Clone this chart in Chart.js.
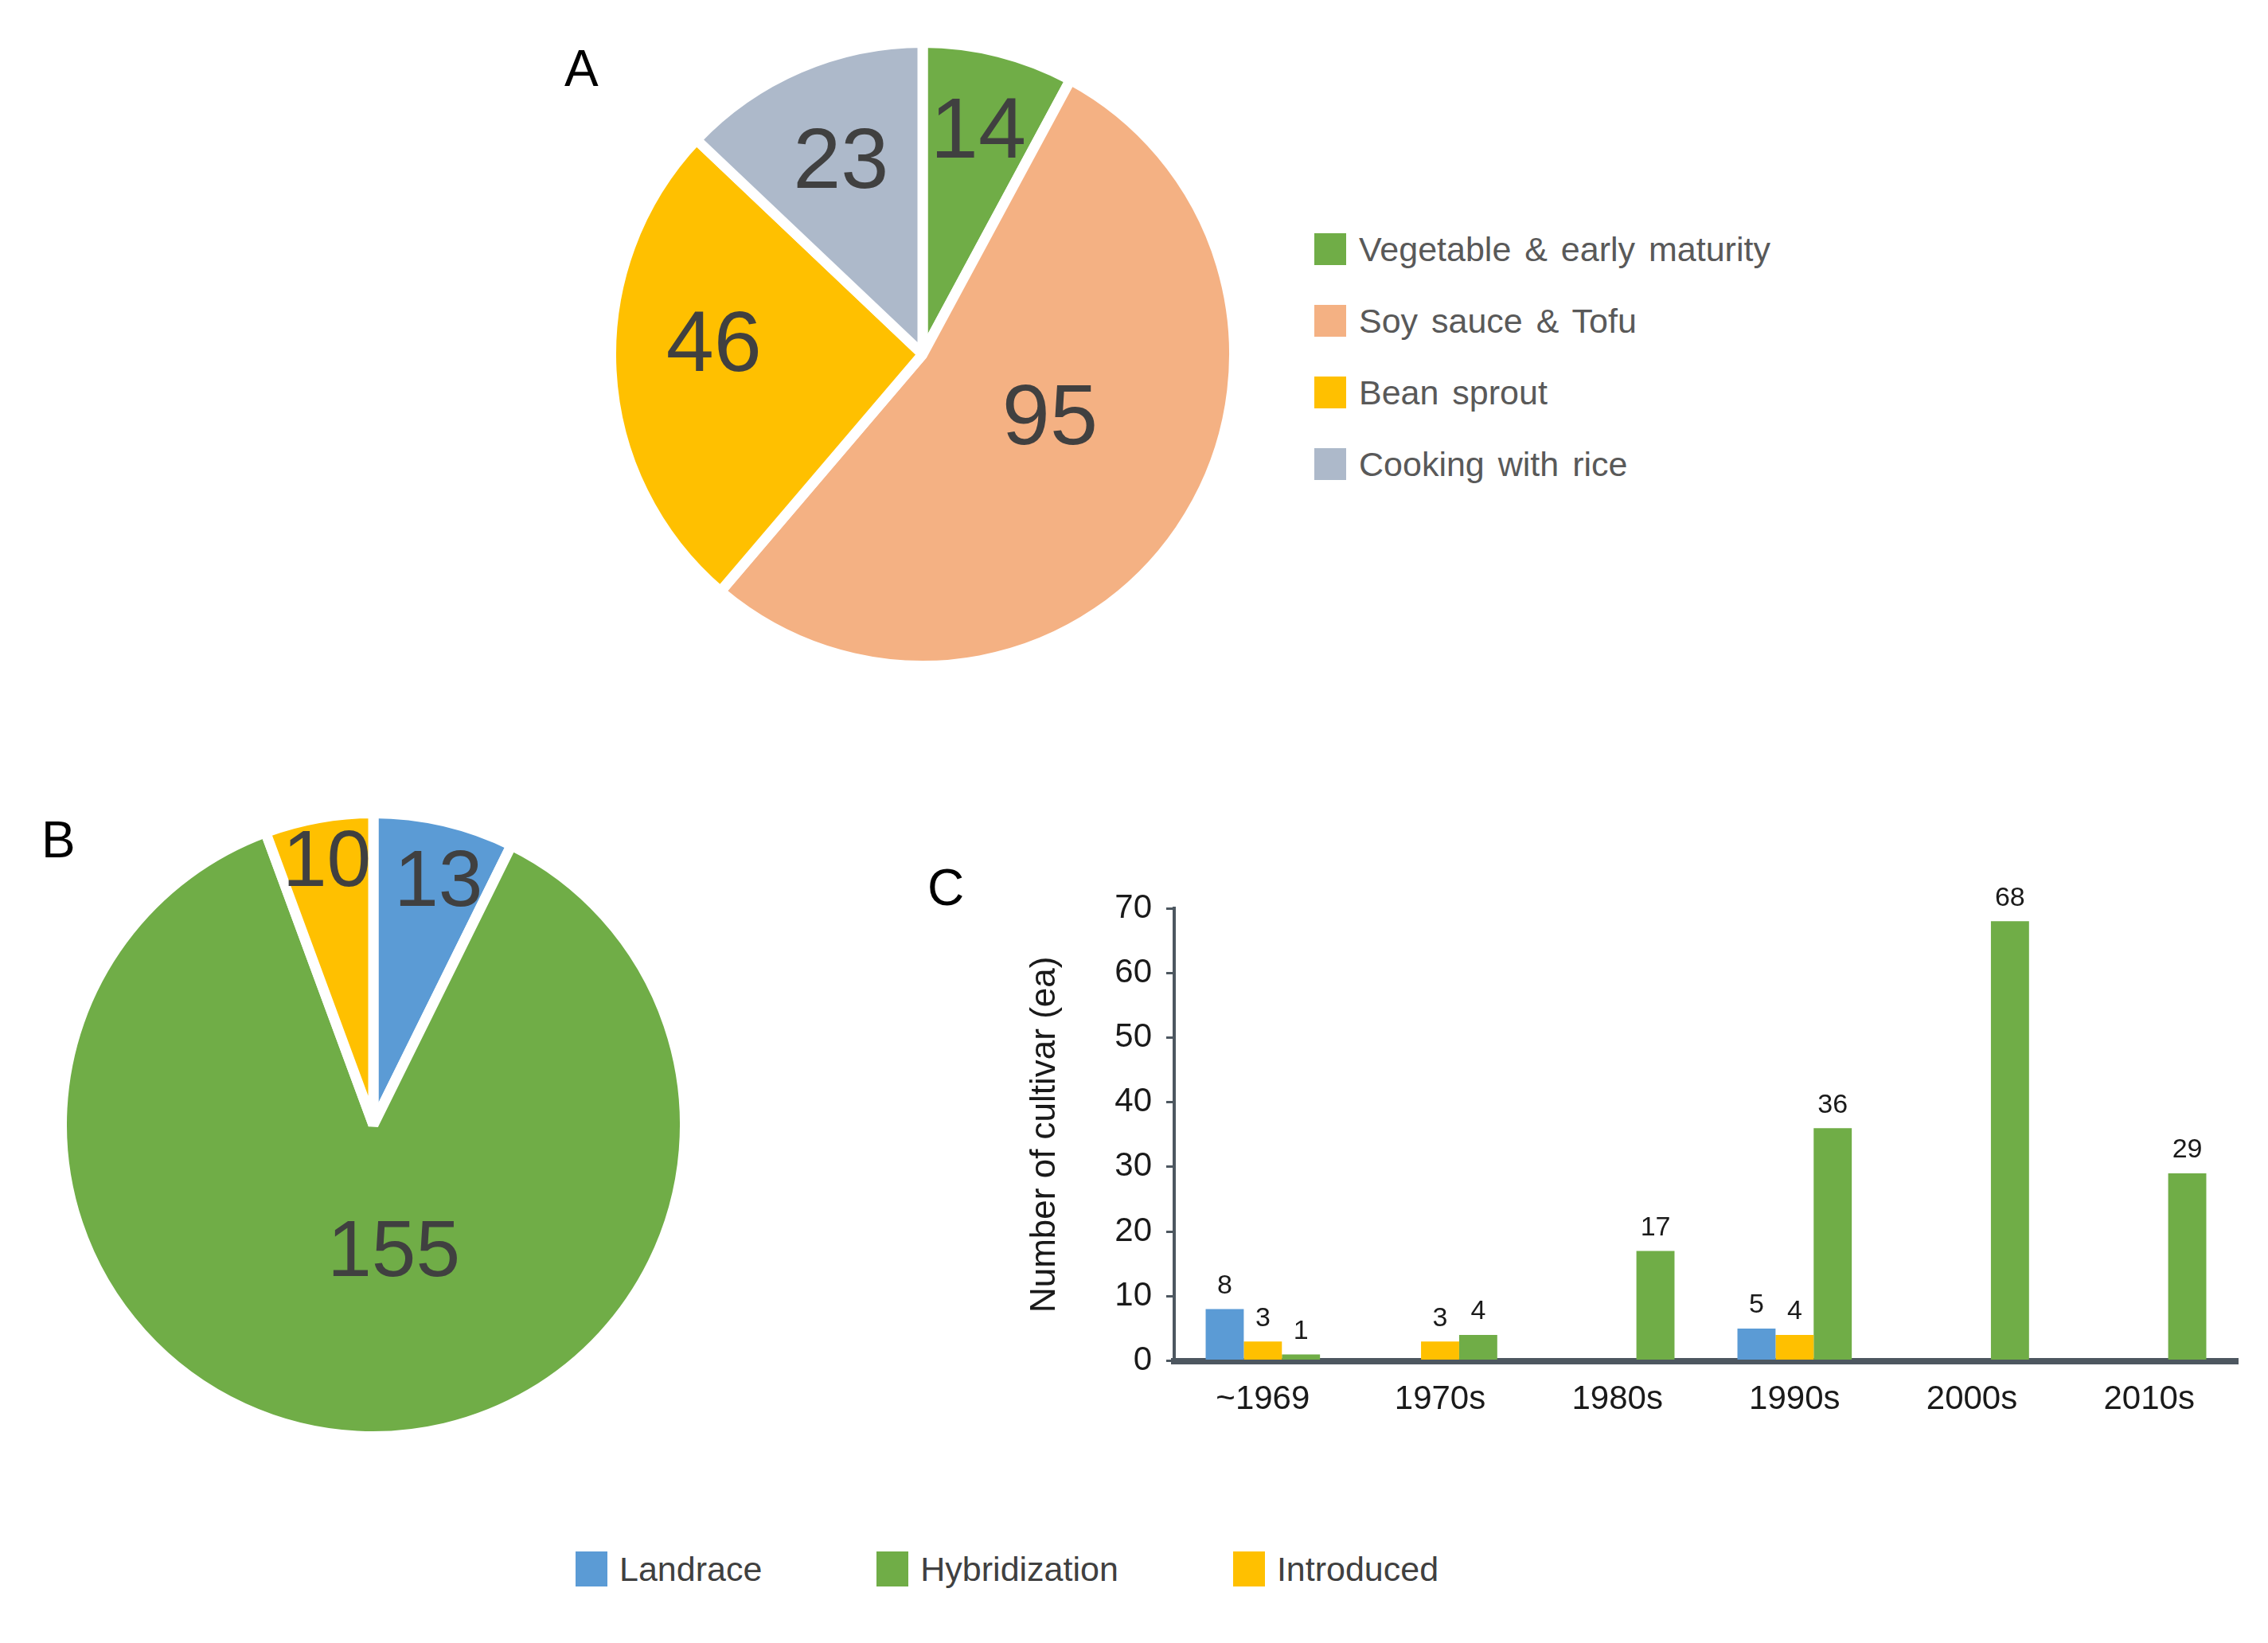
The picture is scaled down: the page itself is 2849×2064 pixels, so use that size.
<!DOCTYPE html>
<html>
<head>
<meta charset="utf-8">
<script src="https://cdn.jsdelivr.net/npm/chart.js@4.4.0/dist/chart.umd.min.js"></script>
<style>
  body { margin: 0; background: #fff; }
  #page { position: relative; width: 2849px; height: 2064px; overflow: hidden; font-family: "Liberation Sans", Arial, sans-serif; }
  .panel { position: absolute; font-size: 64px; line-height: 1; color: #000; }
  canvas { position: absolute; }
  .legend { position: absolute; }
  .legend .item { display: flex; align-items: center; }
  .legend .box { flex: none; }
  #legendA { left: 1651px; top: 293px; color: #595959; font-size: 43px; word-spacing: 5px; }
  #legendA .item { height: 40px; margin-bottom: 50px; }
  #legendA .box { width: 40px; height: 40px; margin-right: 16px; }
  #legendB { left: 723px; top: 1949px; color: #404040; font-size: 43px; display: flex; }
  #legendB .item { height: 44px; margin-right: 144px; }
  #legendB .box { width: 40px; height: 44px; margin-right: 15px; }
</style>
</head>
<body>
<div id="page">
  <div class="panel" style="left:709px; top:54px;">A</div>
  <div class="panel" style="left:52px; top:1023px;">B</div>
  <div class="panel" style="left:1165px; top:1083px;">C</div>
  <canvas id="pieA" width="796" height="796" style="left:761px; top:47px;"></canvas>
  <canvas id="pieB" width="796" height="796" style="left:71px; top:1015px;"></canvas>
  <canvas id="bars" width="1619" height="774" style="left:1230px; top:1060px;"></canvas>
  <div id="legendA" class="legend"></div>
  <div id="legendB" class="legend"></div>
</div>
<script>
// panel A: soybean cultivars by use
const useCategories = ['Vegetable & early maturity', 'Soy sauce & Tofu', 'Bean sprout', 'Cooking with rice']
const useCounts = [14, 95, 46, 23]
const useColors = ['#70AD47', '#F4B183', '#FFC000', '#ADB9CA']

// panel B: cultivars by breeding origin
const originCategories = ['Landrace', 'Hybridization', 'Introduced']
const originCounts = [13, 155, 10]
const originColors = ['#5B9BD5', '#70AD47', '#FFC000']

// panel C: cultivars released per decade
const decades = ['~1969', '1970s', '1980s', '1990s', '2000s', '2010s']
const landrace = [8, 0, 0, 5, 0, 0]
const introduced = [3, 3, 0, 4, 0, 0]
const hybridization = [1, 4, 17, 36, 68, 29]
const yTicks = [0, 10, 20, 30, 40, 50, 60, 70]

const FONT = '"Liberation Sans", Arial, sans-serif'
const AXIS = '#4D5760'

Chart.defaults.animation = false
Chart.defaults.responsive = false
Chart.defaults.devicePixelRatio = 1
Chart.defaults.plugins.tooltip.enabled = false
Chart.defaults.plugins.legend.display = false

// big numbers inside the pie slices
const pieNumbers = {
  id: 'pieNumbers',
  afterDatasetsDraw (chart, args, opts) {
    const ctx = chart.ctx
    const values = chart.data.datasets[0].data
    ctx.save()
    ctx.font = opts.font
    ctx.fillStyle = opts.color
    ctx.textAlign = 'center'
    ctx.textBaseline = 'middle'
    chart.getDatasetMeta(0).data.forEach((arc, i) => {
      const p = arc.getProps(['x', 'y', 'startAngle', 'endAngle', 'outerRadius'], true)
      const a = (p.startAngle + p.endAngle) / 2 + (opts.nudge[i] || 0) * Math.PI / 180
      const r = p.outerRadius * opts.radius[i]
      ctx.fillText(String(values[i]), p.x + Math.cos(a) * r, p.y + Math.sin(a) * r)
    })
    ctx.restore()
  }
}

// value above each bar, zeros left out
const barNumbers = {
  id: 'barNumbers',
  afterDatasetsDraw (chart, args, opts) {
    const ctx = chart.ctx
    ctx.save()
    ctx.font = opts.font
    ctx.fillStyle = opts.color
    ctx.textAlign = 'center'
    ctx.textBaseline = 'bottom'
    chart.data.datasets.forEach((ds, di) => {
      chart.getDatasetMeta(di).data.forEach((bar, i) => {
        const v = ds.data[i]
        if (!v) return
        ctx.fillText(String(v), bar.x, bar.y - opts.gap)
      })
    })
    ctx.restore()
  }
}

function makePie (id, labels, values, colors, fontSize, radius, nudge) {
  return new Chart(document.getElementById(id), {
    type: 'pie',
    data: {
      labels,
      datasets: [{
        data: values,
        backgroundColor: colors,
        borderColor: '#ffffff',
        borderWidth: 13
      }]
    },
    options: {
      layout: { padding: 0 },
      plugins: {
        pieNumbers: { font: fontSize + 'px ' + FONT, color: '#404040', radius, nudge }
      }
    },
    plugins: [pieNumbers]
  })
}

makePie('pieA', useCategories, useCounts, useColors, 108, [0.73, 0.46, 0.67, 0.665], [0, -7, 5, 0])
makePie('pieB', originCategories, originCounts, originColors, 100, [0.8, 0.42, 0.85], [2, -12, 0])

new Chart(document.getElementById('bars'), {
  type: 'bar',
  data: {
    labels: decades,
    datasets: [
      { label: 'Landrace', data: landrace, backgroundColor: '#5B9BD5' },
      { label: 'Introduced', data: introduced, backgroundColor: '#FFC000' },
      { label: 'Hybridization', data: hybridization, backgroundColor: '#70AD47' }
    ]
  },
  options: {
    layout: { padding: { top: 81, right: 38, bottom: 26, left: 0 } },
    datasets: { bar: { categoryPercentage: 0.645, barPercentage: 1 } },
    scales: {
      x: {
        grid: { display: false, drawTicks: false },
        border: { display: true, color: AXIS, width: 8 },
        ticks: { color: '#1a1a1a', font: { family: FONT, size: 42 }, padding: 24 }
      },
      y: {
        min: 0,
        max: 70,
        afterBuildTicks: scale => { scale.ticks = yTicks.map(v => ({ value: v })) },
        afterFit: scale => { scale.width = 245 },
        grid: { display: true, drawOnChartArea: false, drawTicks: true, tickLength: 10, color: AXIS, lineWidth: 3 },
        border: { display: true, color: AXIS, width: 4 },
        ticks: { color: '#1a1a1a', font: { family: FONT, size: 42 }, padding: 18 },
        title: {
          display: true,
          text: 'Number of cultivar (ea)',
          color: '#1a1a1a',
          font: { family: FONT, size: 44 },
          padding: { top: 56, bottom: 0 }
        }
      }
    },
    plugins: {
      barNumbers: { font: '34px ' + FONT, color: '#1a1a1a', gap: 12 }
    }
  },
  plugins: [barNumbers]
})

function buildLegend (id, names, colors) {
  const el = document.getElementById(id)
  names.forEach((name, i) => {
    const item = document.createElement('div')
    item.className = 'item'
    const box = document.createElement('span')
    box.className = 'box'
    box.style.background = colors[i]
    const text = document.createElement('span')
    text.textContent = name
    item.appendChild(box)
    item.appendChild(text)
    el.appendChild(item)
  })
}

buildLegend('legendA', useCategories, useColors)
// bottom legend lists the origins in the reference's order
buildLegend('legendB', ['Landrace', 'Hybridization', 'Introduced'], ['#5B9BD5', '#70AD47', '#FFC000'])
</script>
</body>
</html>
